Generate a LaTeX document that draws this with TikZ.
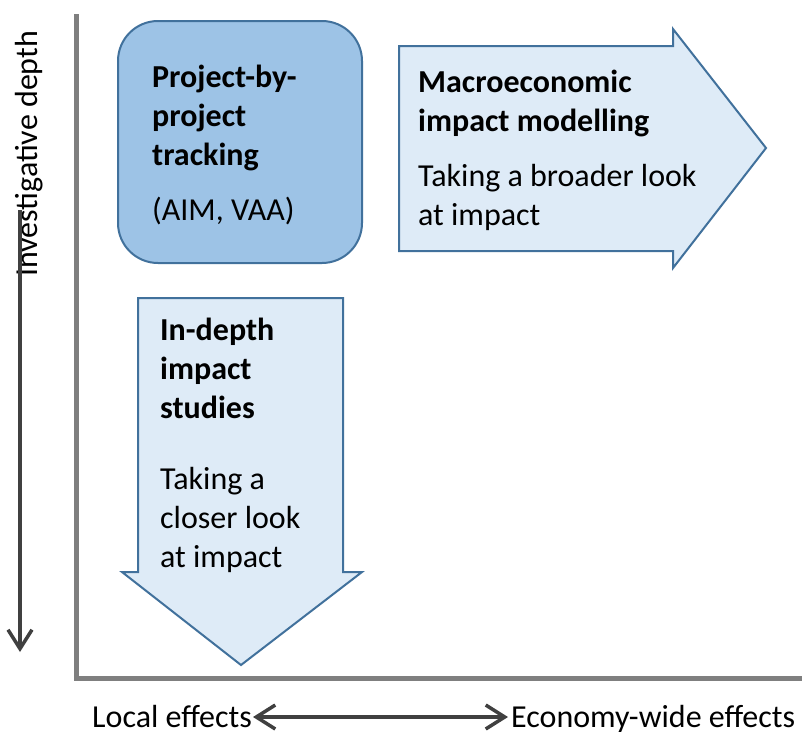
\documentclass[tikz,border=0pt]{standalone}
\usepackage{fontspec}
\setmainfont{Carlito}
\usetikzlibrary{arrows.meta}
\definecolor{axisgray}{HTML}{7F7F7F}
\definecolor{arrowdark}{HTML}{404040}
\definecolor{boxline}{HTML}{41719C}
\definecolor{boxfill}{HTML}{9DC3E6}
\definecolor{arrfill}{HTML}{DEEBF7}
\begin{document}
\begin{tikzpicture}[x=1pt,y=-1pt,
  txt/.style={inner sep=0pt, anchor=base west, align=left, font=\fontsize{32}{39}\selectfont},
  ttl/.style={txt, font=\fontsize{32}{39}\selectfont\bfseries},
  shapeline/.style={draw=boxline, line width=2pt, line join=miter},
  guide/.style={draw=arrowdark, line width=3.5pt},
  barb/.tip={Straight Barb[length=19pt, width=24pt]}
]
\useasboundingbox[fill=white] (0,0) rectangle (802,731);

% axes
\draw[axisgray, line width=5pt, line join=miter] (76,14) -- (76,678) -- (802,678);

% project-by-project box
\draw[shapeline, fill=boxfill, rounded corners=40pt] (118,21) rectangle (362,263);
\node[ttl] (pbpt) at (152,165) {Project-by-\\project\\tracking};
\node[txt] (pbps) at (152,220) {(AIM, VAA)};

% macro arrow
\draw[shapeline, fill=arrfill] (399,46) -- (673,46) -- (673,29) -- (766,148) -- (673,268) -- (673,251) -- (399,251) -- cycle;
\node[ttl] (mact) at (418,131) {Macroeconomic\\impact modelling};
\node[txt] (macs) at (418,225) {Taking a broader look\\at impact};

% in-depth arrow
\draw[shapeline, fill=arrfill] (138,298) -- (343,298) -- (343,572) -- (362,572) -- (241,665) -- (122,572) -- (138,572) -- cycle;
\node[ttl] (idt) at (160,418) {In-depth\\impact\\studies};
\node[txt] (ids) at (160,567) {Taking a\\closer look\\at impact};

% vertical guide
\node[txt, rotate=90] (inv) at (37,277) {Investigative depth};
\coordinate (vtop) at (20,210);
\coordinate (vbot) at (20,652);
\draw[guide, -barb] (vtop) -- (vbot);

% horizontal guide
\node[txt] (loc) at (92,727) {Local effects};
\node[txt] (eco) at (511,727) {Economy-wide effects};
\coordinate (hl) at (253,717);
\coordinate (hr) at (508,717);
\draw[guide, barb-barb] (hl) -- (hr);
\end{tikzpicture}
\end{document}
